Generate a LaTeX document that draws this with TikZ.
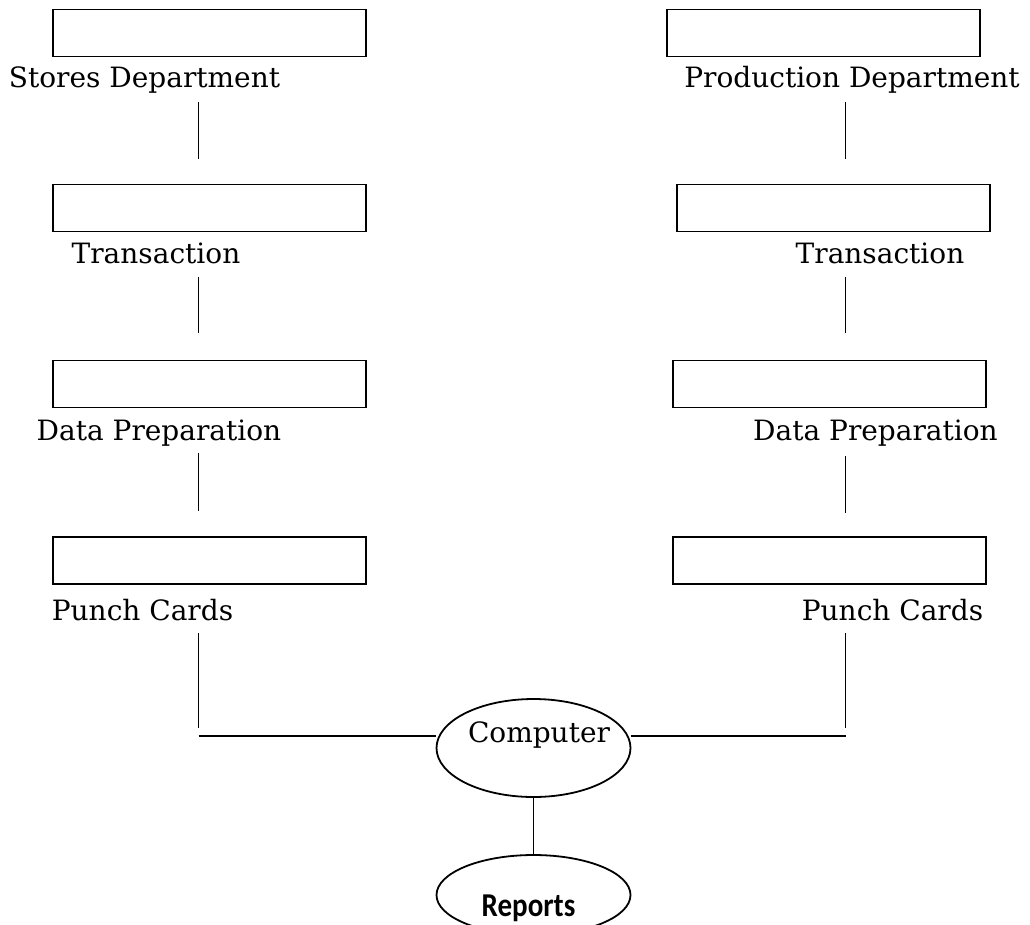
\documentclass[tikz,border=0pt]{standalone}
\usepackage{fontspec}
\setmainfont{DejaVu Serif}
\newfontfamily\repfont{Carlito}
\usetikzlibrary{shapes.geometric}
\begin{document}
\begin{tikzpicture}[x=1pt,y=-1pt,
  boxst/.style={draw, line width=1.8pt, inner sep=0pt, minimum width=313pt, minimum height=47pt},
  lbl/.style={font=\fontsize{28}{32}\selectfont, inner sep=0pt, anchor=base},
  conn/.style={line width=1.8pt},
  oval/.style={draw, ellipse, line width=1.8pt, inner sep=0pt, minimum width=194pt}]
\useasboundingbox (0,0) rectangle (1030,924);
% left column
\node[boxst] (sb1) at (209.5,33) {};
\node[boxst] (sb2) at (209.5,208) {};
\node[boxst] (sb3) at (209.5,384) {};
\node[boxst] (sb4) at (209.5,560.5) {};
\node[lbl] (sl1) at (144.5,87) {Stores Department};
\node[lbl] (sl2) at (156,263) {Transaction};
\node[lbl] (sl3) at (159,440) {Data Preparation};
\node[lbl] (sl4) at (142.5,620) {Punch Cards};
% right column
\node[boxst] (pb1) at (823.5,33) {};
\node[boxst] (pb2) at (833.5,208) {};
\node[boxst] (pb3) at (829.5,384) {};
\node[boxst] (pb4) at (829.5,560.5) {};
\node[lbl] (pl1) at (852,87) {Production Department};
\node[lbl] (pl2) at (880,263) {Transaction};
\node[lbl] (pl3) at (875.5,440) {Data Preparation};
\node[lbl] (pl4) at (892.5,620) {Punch Cards};
% computer and reports
\node[oval, minimum height=98pt] (comp) at (533.5,748) {};
\node[lbl] (compt) at (539,742) {Computer};
\node[oval, minimum height=80pt] (rep) at (533.5,895) {};
\node[inner sep=0pt, anchor=base, font=\repfont\bfseries\fontsize{29}{32}\selectfont] (rept) at (528.5,916) {\scalebox{1}[1.15]{Reports}};
% connector end points
\coordinate (sa1) at (198.5,102); \coordinate (sa2) at (198.5,159);
\coordinate (sa3) at (198.5,277); \coordinate (sa4) at (198.5,333);
\coordinate (sa5) at (198.5,453); \coordinate (sa6) at (198.5,511);
\coordinate (sa7) at (198.5,633); \coordinate (sa8) at (198.5,728);
\coordinate (sh) at (198.5,736);
\coordinate (pa1) at (845.5,102); \coordinate (pa2) at (845.5,159);
\coordinate (pa3) at (845.5,277); \coordinate (pa4) at (845.5,333);
\coordinate (pa5) at (845.5,456); \coordinate (pa6) at (845.5,513);
\coordinate (pa7) at (845.5,633); \coordinate (pa8) at (845.5,728);
\coordinate (ph) at (845.5,736);
\draw[conn] (sa1) -- (sa2);
\draw[conn] (sa3) -- (sa4);
\draw[conn] (sa5) -- (sa6);
\draw[conn] (sa7) -- (sa8);
\draw[conn] (pa1) -- (pa2);
\draw[conn] (pa3) -- (pa4);
\draw[conn] (pa5) -- (pa6);
\draw[conn] (pa7) -- (pa8);
\draw[conn] (sh) -- (sh -| comp.west);
\draw[conn] (ph) -- (ph -| comp.east);
\draw[conn] (comp.south) -- (rep.north);
\end{tikzpicture}
\end{document}
